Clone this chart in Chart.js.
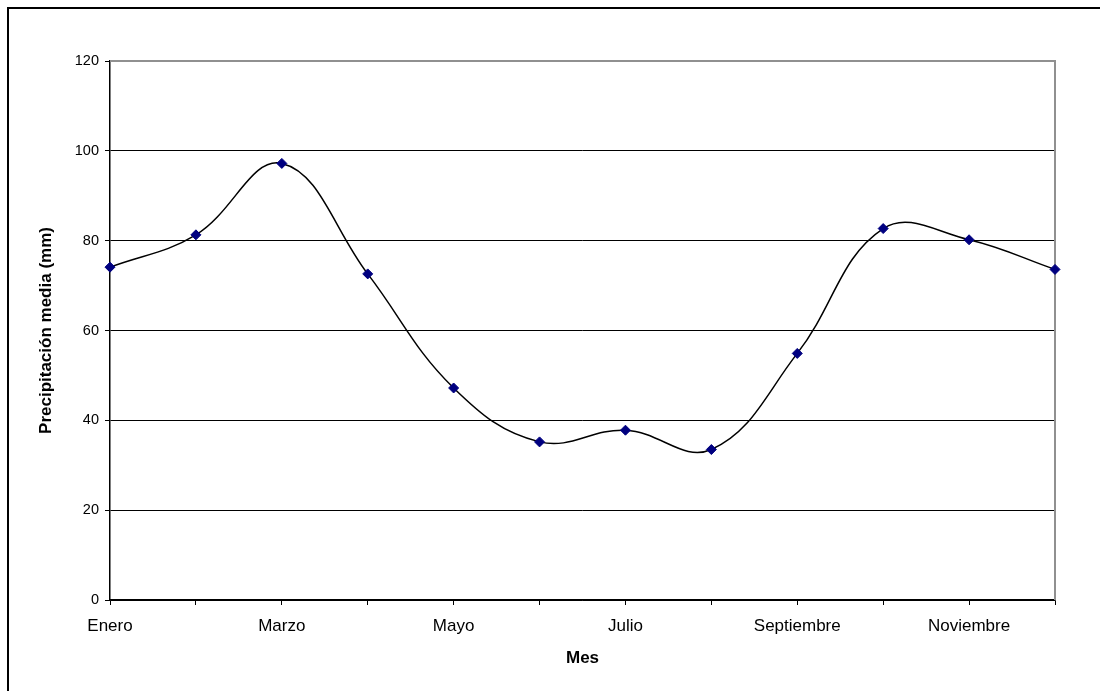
<!DOCTYPE html>
<html>
<head>
<meta charset="utf-8">
<script src="https://cdn.jsdelivr.net/npm/chart.js@4.4.1/dist/chart.umd.min.js"></script>
<style>
  html, body { margin: 0; padding: 0; background: #fff; }
  #wrap { width: 1100px; height: 691px; position: relative; }
</style>
</head>
<body>
<div id="wrap"><canvas id="c" width="1100" height="691"></canvas></div>
<script>
// Precipitación media mensual (mm)
const meses = ['Enero', 'Febrero', 'Marzo', 'Abril', 'Mayo', 'Junio',
               'Julio', 'Agosto', 'Septiembre', 'Octubre', 'Noviembre', 'Diciembre'];
const precipitacion = [74.1, 81.3, 97.2, 72.6, 47.2, 35.2, 37.8, 33.5, 54.9, 82.7, 80.2, 73.6];
const yMin = 0, yMax = 120, yPaso = 20;

const FONT = '"Liberation Sans", Arial, Helvetica, sans-serif';

// White background, outer frame and the grey plot-area frame
const marco = {
  id: 'marco',
  beforeDraw(chart) {
    const ctx = chart.ctx;
    ctx.save();
    ctx.fillStyle = '#fff';
    ctx.fillRect(0, 0, chart.width, chart.height);
    ctx.restore();
  },
  afterDraw(chart) {
    const ctx = chart.ctx;
    ctx.save();
    ctx.strokeStyle = '#000';
    ctx.lineWidth = 2;
    ctx.beginPath();
    ctx.moveTo(8, chart.height + 5);
    ctx.lineTo(8, 8);
    ctx.lineTo(chart.width + 5, 8);
    ctx.stroke();
    ctx.restore();
  },
  beforeDatasetsDraw(chart) {
    const ctx = chart.ctx, a = chart.chartArea;
    ctx.save();
    ctx.strokeStyle = '#909090';
    ctx.lineWidth = 2;
    ctx.beginPath();
    ctx.moveTo(a.left, a.top);
    ctx.lineTo(a.right, a.top);
    ctx.lineTo(a.right, a.bottom);
    ctx.stroke();
    ctx.restore();
  }
};

new Chart(document.getElementById('c'), {
  type: 'line',
  data: {
    labels: meses,
    datasets: [{
      data: precipitacion,
      borderColor: '#000',
      borderWidth: 1.5,
      tension: 0.4,
      fill: false,
      clip: false,
      pointStyle: 'rectRot',
      pointRadius: 5,
      pointBackgroundColor: '#000080',
      pointBorderColor: '#000080',
      pointBorderWidth: 1
    }]
  },
  options: {
    responsive: false,
    animation: false,
    devicePixelRatio: 1,
    layout: { padding: { top: 61, right: 45, left: 0, bottom: 0 } },
    plugins: { legend: { display: false }, tooltip: { enabled: false } },
    scales: {
      x: {
        type: 'category',
        offset: false,
        afterFit(s) { s.height = 91; },
        border: { color: '#000', width: 1.5 },
        grid: { drawOnChartArea: false, drawTicks: true, tickLength: 5, color: '#000', lineWidth: 1 },
        ticks: {
          autoSkip: false,
          maxRotation: 0,
          padding: 11,
          color: '#000',
          font: { family: FONT, size: 17 },
          callback(v, i) { return i % 2 === 0 ? meses[i] : ''; }
        },
        title: {
          display: true,
          text: 'Mes',
          color: '#000',
          font: { family: FONT, size: 17, weight: 'bold' },
          padding: { top: 4, bottom: 22 }
        }
      },
      y: {
        min: yMin,
        max: yMax,
        afterFit(s) { s.width = 110; },
        border: { color: '#000', width: 1.5 },
        grid: {
          color: (c) => (c.tick && c.tick.value === yMax ? '#909090' : '#000'),
          tickColor: '#000',
          lineWidth: 1,
          tickLength: 5
        },
        ticks: {
          stepSize: yPaso,
          padding: 6,
          color: '#000',
          font: { family: FONT, size: 14.5 }
        },
        title: {
          display: true,
          text: 'Precipitación media (mm)',
          color: '#000',
          font: { family: FONT, size: 17, weight: 'bold' },
          padding: { top: 36, bottom: 4 }
        }
      }
    }
  },
  plugins: [marco]
});
</script>
</body>
</html>
